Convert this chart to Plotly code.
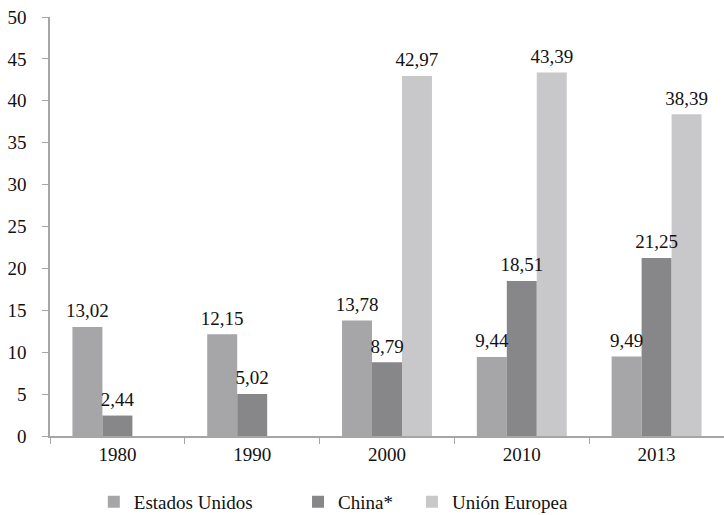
import plotly.graph_objects as go

years = ["1980", "1990", "2000", "2010", "2013"]
estados_unidos = [13.02, 12.15, 13.78, 9.44, 9.49]
china = [2.44, 5.02, 8.79, 18.51, 21.25]
union_europea = [None, None, 42.97, 43.39, 38.39]

FONT = "Liberation Serif"
FS = 19

series = [
    ("Estados Unidos", estados_unidos, "#a6a6a8", "legend"),
    ("China*", china, "#87878a", "legend2"),
    ("Unión Europea", union_europea, "#c8c8ca", "legend3"),
]

fig = go.Figure()
for i, (name, vals, col, lg) in enumerate(series):
    fig.add_trace(go.Bar(
        x=years, y=vals, name=name, marker_color=col,
        marker_line_width=0, offsetgroup=str(i),
        legend=lg,
    ))
for i, (name, vals, col, lg) in enumerate(series):
    fig.add_trace(go.Scatter(
        x=years, y=vals, mode="markers+text", offsetgroup=str(i),
        marker=dict(size=6, color="rgba(0,0,0,0)"),
        texttemplate="%{y:.2f}", textposition="top center",
        textfont=dict(family=FONT, size=FS, color="#111111"),
        showlegend=False, hoverinfo="skip", cliponaxis=False,
    ))

leg_common = dict(orientation="h", yanchor="middle", y=-0.157, xanchor="left",
                  font=dict(family=FONT, size=FS, color="#111111"),
                  bgcolor="rgba(0,0,0,0)", itemwidth=30)

fig.update_layout(
    width=724, height=515,
    margin=dict(l=50, r=0, t=17, b=79, autoexpand=False),
    paper_bgcolor="white", plot_bgcolor="white",
    separators=",.",
    barmode="group", bargap=0.333, bargroupgap=0,
    scattermode="group", scattergap=0.333,
    font=dict(family=FONT, size=FS, color="#111111"),
    showlegend=True,
    legend=dict(x=0.065, **leg_common),
    legend2=dict(x=0.368, **leg_common),
    legend3=dict(x=0.537, **leg_common),
    xaxis=dict(type="category", showline=True, linecolor="#a6a6a6", linewidth=1.5,
               ticks="outside", tickson="boundaries", ticklen=6, tickcolor="#a6a6a6",
               showgrid=False, tickfont=dict(family=FONT, size=FS, color="#111111")),
    yaxis=dict(range=[0, 50], dtick=5, showline=True, linecolor="#a6a6a6", linewidth=1.5,
               ticks="outside", ticklen=6, tickcolor="#a6a6a6", showgrid=False,
               zeroline=False, ticklabelstandoff=12,
               tickfont=dict(family=FONT, size=FS, color="#111111")),
)

fig.write_html("out.html")
